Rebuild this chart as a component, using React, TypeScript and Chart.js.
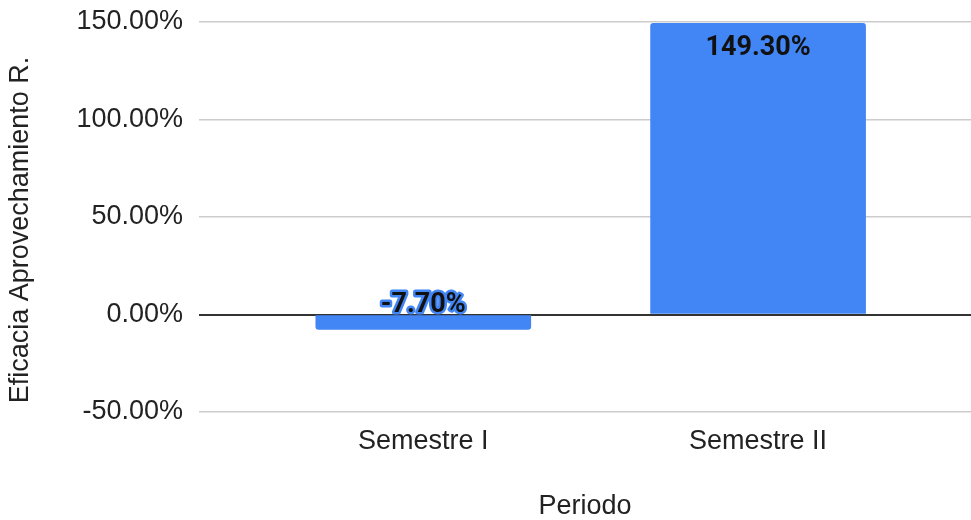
import React, { useEffect, useRef } from 'react';
import { Chart, registerables } from 'chart.js';

Chart.register(...registerables);

const categories: string[] = ['Semestre I', 'Semestre II'];
const values: number[] = [-7.7, 149.3];
const valueLabels: string[] = ['-7.70%', '149.30%'];
const yMin = -50;
const yMax = 150;
const yStep = 50;
const yTitle = 'Eficacia Aprovechamiento R.';
const xTitle = 'Periodo';

const FONT = "'Liberation Sans', Arial, sans-serif";
const BAR = '#4285F4';

const labelPlugin = {
  id: 'valueLabels',
  afterDatasetsDraw(chart: any) {
    const ctx = chart.ctx;
    const meta = chart.getDatasetMeta(0);
    ctx.save();
    ctx.font = "bold 27px Roboto, 'Liberation Sans', sans-serif";
    ctx.textAlign = 'center';
    ctx.textBaseline = 'middle';
    meta.data.forEach((bar: any, i: number) => {
      const v = values[i];
      const text = valueLabels[i];
      if (v >= 0) {
        ctx.fillStyle = '#111';
        ctx.fillText(text, bar.x, bar.y + 25);
      } else {
        const y = bar.base - 10;
        ctx.lineJoin = 'round';
        ctx.lineWidth = 5;
        ctx.strokeStyle = BAR;
        ctx.strokeText(text, bar.x, y);
        ctx.fillStyle = '#111';
        ctx.fillText(text, bar.x, y);
      }
    });
    ctx.restore();
  },
};

const yTitlePlugin = {
  id: 'yTitle',
  afterDraw(chart: any) {
    const ctx = chart.ctx;
    ctx.save();
    ctx.translate(21, 230);
    ctx.rotate(-Math.PI / 2);
    ctx.font = `27px ${FONT}`;
    ctx.fillStyle = '#222';
    ctx.textAlign = 'center';
    ctx.textBaseline = 'middle';
    ctx.fillText(yTitle, 0, 0);
    ctx.restore();
  },
};

export default function App() {
  const ref = useRef<HTMLCanvasElement>(null);

  useEffect(() => {
    if (!ref.current) return;
    const chart = new Chart(ref.current, {
      type: 'bar',
      data: {
        datasets: [
          {
            data: values.map((v, i) => ({ x: i, y: v })),
            backgroundColor: BAR,
            borderRadius: 3,
            barThickness: 215,
          },
        ],
      },
      options: {
        responsive: false,
        animation: false,
        layout: { padding: { top: 22, right: 0, bottom: 0, left: 0 } },
        plugins: {
          legend: { display: false },
          tooltip: { enabled: false },
        },
        scales: {
          x: {
            type: 'linear',
            offset: false,
            min: -0.67,
            max: 1.636,
            grid: { display: false },
            border: { display: false },
            afterBuildTicks: (s: any) => {
              s.ticks = categories.map((_, i) => ({ value: i }));
            },
            afterFit: (s: any) => {
              s.height = 108;
              s.paddingLeft = 0;
              s.paddingRight = 0;
            },
            ticks: {
              callback: (v: any) => categories[Math.round(Number(v))] ?? '',
              maxRotation: 0,
              autoSkip: false,
              padding: 5,
              color: '#222',
              font: { family: FONT, size: 27 },
            },
            title: {
              display: true,
              text: xTitle,
              color: '#222',
              font: { family: FONT, size: 27 },
              padding: { top: 0, bottom: -3 },
            },
          },
          y: {
            min: yMin,
            max: yMax,
            border: { display: false },
            grid: {
              drawTicks: false,
              color: (c: any) => (c.tick && c.tick.value === 0 ? '#333' : '#ccc'),
              lineWidth: (c: any) => (c.tick && c.tick.value === 0 ? 2 : 1.5),
            },
            afterFit: (s: any) => {
              s.width = 199;
              s.paddingTop = 0;
              s.paddingBottom = 0;
            },
            ticks: {
              stepSize: yStep,
              padding: 16,
              color: '#222',
              font: { family: FONT, size: 27 },
              callback: (v: any) => Number(v).toFixed(2) + '%',
            },
          },
        },
      },
      plugins: [labelPlugin, yTitlePlugin],
    });
    return () => chart.destroy();
  }, []);

  return (
    <div style={{ position: 'absolute', left: 0, top: 0, width: 971, height: 520, background: '#fff' }}>
      <canvas ref={ref} width={971} height={520} style={{ width: 971, height: 520, display: 'block' }} />
    </div>
  );
}
